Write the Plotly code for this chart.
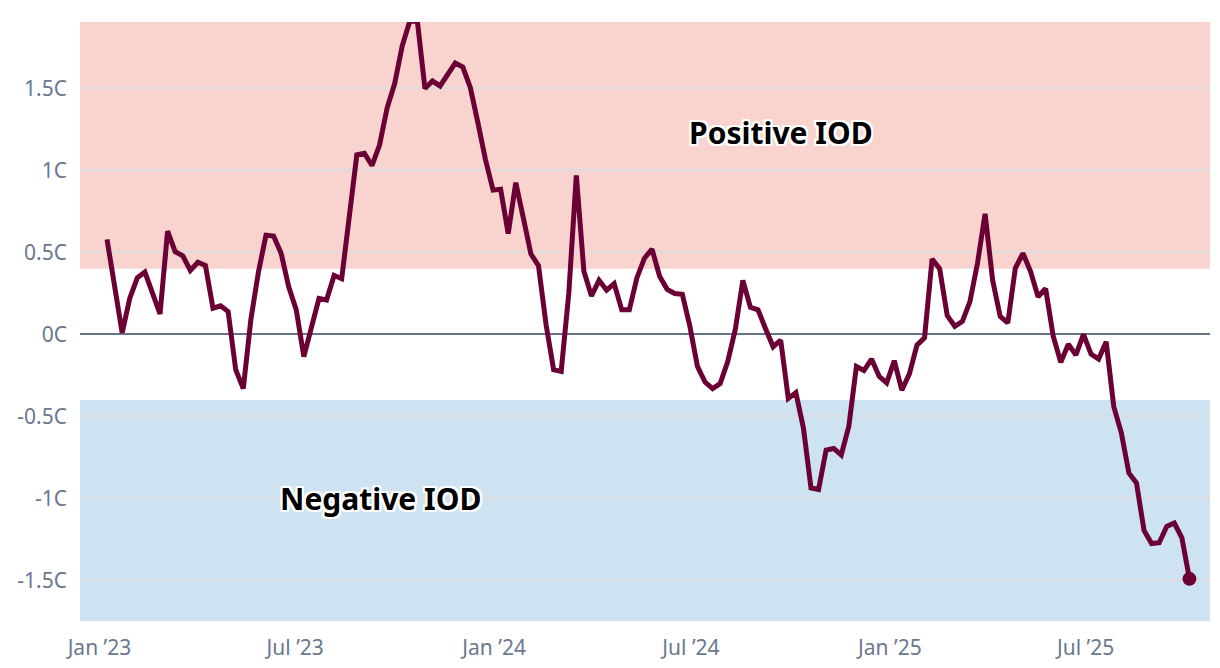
import pandas as pd
import plotly.graph_objects as go

# Weekly IOD index values (degrees C), weeks ending Sunday from 2023-01-08
start_date = "2023-01-08"
iod_values = [
    0.58, 0.30, 0.01, 0.22, 0.345, 0.38, 0.25, 0.125, 0.63, 0.505,
    0.48, 0.39, 0.44, 0.42, 0.16, 0.175, 0.14, -0.215, -0.33, 0.09,
    0.38, 0.605, 0.60, 0.495, 0.29, 0.15, -0.135, 0.05, 0.22, 0.21,
    0.36, 0.34, 0.72, 1.095, 1.105, 1.03, 1.155, 1.38, 1.53, 1.76,
    1.91, 1.91, 1.50, 1.545, 1.515, 1.59, 1.655, 1.63, 1.505, 1.29,
    1.065, 0.88, 0.885, 0.615, 0.925, 0.71, 0.49, 0.42, 0.06, -0.215,
    -0.225, 0.25, 0.97, 0.385, 0.235, 0.33, 0.27, 0.31, 0.15, 0.15,
    0.345, 0.465, 0.52, 0.355, 0.275, 0.25, 0.245, 0.05, -0.195, -0.29,
    -0.33, -0.30, -0.165, 0.03, 0.33, 0.165, 0.15, 0.035, -0.075, -0.035,
    -0.39, -0.355, -0.57, -0.935, -0.945, -0.705, -0.695, -0.735, -0.56, -0.195,
    -0.22, -0.15, -0.255, -0.295, -0.16, -0.34, -0.24, -0.065, -0.02, 0.46,
    0.40, 0.115, 0.05, 0.08, 0.20, 0.435, 0.735, 0.33, 0.11, 0.07,
    0.405, 0.495, 0.385, 0.23, 0.28, -0.01, -0.17, -0.06, -0.125, 0.00,
    -0.12, -0.15, -0.045, -0.44, -0.60, -0.845, -0.905, -1.195, -1.275, -1.27,
    -1.17, -1.15, -1.24, -1.49,
]
dates = pd.date_range(start=start_date, periods=len(iod_values), freq="7D")

# Thresholds for IOD events
positive_threshold = 0.4
negative_threshold = -0.4

y_tick_vals = [-1.5, -1.0, -0.5, 0.0, 0.5, 1.0, 1.5]
y_tick_text = ["-1.5C", "-1C", "-0.5C", "0C", "0.5C", "1C", "1.5C"]
x_tick_vals = ["2023-01-01", "2023-07-01", "2024-01-01", "2024-07-01", "2025-01-01", "2025-07-01"]
x_tick_text = ["Jan \u201923", "Jul \u201923", "Jan \u201924", "Jul \u201924", "Jan \u201925", "Jul \u201925"]

y_min, y_max = -1.747, 1.905
x_min, x_max = "2022-12-14", "2025-10-24"

line_color = "#6b0035"
axis_text_color = "#6a7890"
font_family = "Noto Sans, Lato, sans-serif"

fig = go.Figure()

fig.add_trace(go.Scatter(
    x=dates, y=iod_values, mode="lines",
    line=dict(color=line_color, width=5),
    hoverinfo="skip", showlegend=False,
))
fig.add_trace(go.Scatter(
    x=[dates[-1]], y=[iod_values[-1]], mode="markers",
    marker=dict(color=line_color, size=14),
    hoverinfo="skip", showlegend=False,
))

fig.add_shape(type="rect", xref="paper", yref="y", x0=0, x1=1,
              y0=positive_threshold, y1=y_max, fillcolor="#f9d3cd",
              line=dict(width=0), layer="below")
fig.add_shape(type="rect", xref="paper", yref="y", x0=0, x1=1,
              y0=y_min, y1=negative_threshold, fillcolor="#cde3f2",
              line=dict(width=0), layer="below")

outline = "2px 2px 0 #fff, -2px -2px 0 #fff, 2px -2px 0 #fff, -2px 2px 0 #fff, 0 2px 0 #fff, 0 -2px 0 #fff, 2px 0 0 #fff, -2px 0 0 #fff"
fig.add_annotation(x="2024-09-22", y=1.23, text="<b>Positive IOD</b>", showarrow=False,
                   font=dict(family=font_family, size=30, color="#000000", shadow=outline))
fig.add_annotation(x="2023-09-18", y=-1.0, text="<b>Negative IOD</b>", showarrow=False,
                   font=dict(family=font_family, size=30, color="#000000", shadow=outline))

# page body has an 8px default margin, so the figure is sized to fit the window
fig.update_layout(
    width=1204, height=652,
    margin=dict(l=72, r=2, t=14, b=39, pad=0),
    paper_bgcolor="#ffffff", plot_bgcolor="#ffffff",
    font=dict(family=font_family, size=21, color=axis_text_color),
    xaxis=dict(
        range=[x_min, x_max], tickvals=x_tick_vals, ticktext=x_tick_text,
        showgrid=False, zeroline=False, showline=False, ticks="",
        tickfont=dict(size=21, color=axis_text_color), ticklabelstandoff=12,
        automargin=False,
    ),
    yaxis=dict(
        range=[y_min, y_max], tickvals=y_tick_vals, ticktext=y_tick_text,
        showgrid=True, gridcolor="#dcdcdf", gridwidth=1.5,
        zeroline=True, zerolinecolor="#66758a", zerolinewidth=2,
        showline=False, ticks="", ticklabelstandoff=12,
        tickfont=dict(size=21, color=axis_text_color),
        automargin=False,
    ),
)

fig.write_html("out.html")
